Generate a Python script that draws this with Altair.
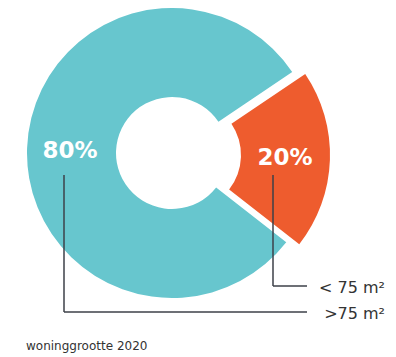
import altair as alt
import pandas as pd
import math

categories = ["< 75 m²", ">75 m²"]
values = [20, 80]
labels = ["20%", "80%"]
colors = ["#EE5C2E", "#67C6CE"]
caption = "woninggrootte 2020"

df = pd.DataFrame({"cat": categories, "value": values, "label": labels, "order": [0, 1]})

start = math.radians(56)
theta_scale = alt.Scale(domain=[0, 100], range=[start, start + 2 * math.pi])
color_scale = alt.Scale(domain=categories, range=colors)

base = alt.Chart(df).transform_stack(
    stack="value", groupby=[], as_=["v0", "v1"], sort=[alt.SortField("order")]
)

def arc_layer(cat, cx, cy):
    return base.transform_filter(alt.datum.cat == cat).mark_arc(
        outerRadius=145, innerRadius=56, stroke=None
    ).encode(
        theta=alt.Theta("v0:Q", scale=theta_scale),
        theta2="v1:Q",
        color=alt.Color("cat:N", scale=color_scale, legend=None),
        x=alt.value(cx),
        y=alt.value(cy),
    )

teal = arc_layer(">75 m²", 164, 145)
orange = arc_layer("< 75 m²", 177, 147)

def pct_text(cat, tx, ty):
    return alt.Chart(df).transform_filter(alt.datum.cat == cat).mark_text(
        font="DejaVu Sans", fontSize=23, fontWeight="bold", color="white",
        align="center", baseline="middle"
    ).encode(text="label:N", x=alt.value(tx), y=alt.value(ty))

t80 = pct_text(">75 m²", 62, 143)
t20 = pct_text("< 75 m²", 277, 150)

line_color = "#3d4048"

def rule(x, x2, y, y2):
    return alt.Chart(df).transform_filter(alt.datum.order == 0).mark_rule(
        color=line_color, strokeWidth=1.5
    ).encode(x=alt.value(x), x2=alt.value(x2), y=alt.value(y), y2=alt.value(y2))

rules = [
    rule(56, 56, 167, 304),
    rule(56, 299, 304, 304),
    rule(265, 265, 167, 278),
    rule(265, 299, 278, 278),
]

def cat_text(cat, ty):
    return alt.Chart(df).transform_filter(alt.datum.cat == cat).mark_text(
        font="DejaVu Sans", fontSize=16, color="#333333",
        align="right", baseline="middle"
    ).encode(text="cat:N", x=alt.value(377), y=alt.value(ty))

lab1 = cat_text("< 75 m²", 280)
lab2 = cat_text(">75 m²", 306)

cap = alt.Chart(df).transform_filter(alt.datum.order == 0).mark_text(
    font="DejaVu Sans", fontSize=12, color="#333333", align="left", baseline="middle"
).encode(text=alt.value(caption), x=alt.value(18), y=alt.value(338))

chart = alt.layer(teal, orange, t80, t20, *rules, lab1, lab2, cap).properties(
    width=380, height=346, padding=0, autosize=alt.AutoSizeParams(type="none")
).configure_view(stroke=None)

chart.save("out.html", embed_options={"renderer": "svg", "actions": False})
